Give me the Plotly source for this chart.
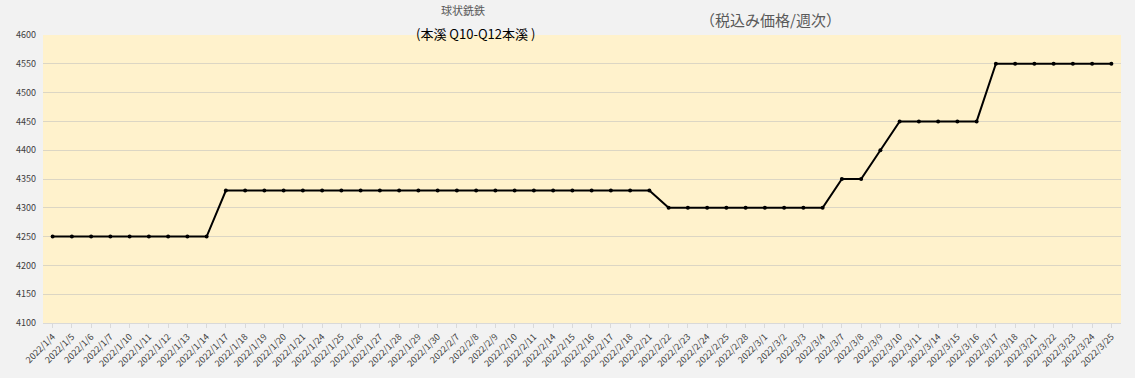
import plotly.graph_objects as go

dates = ["2022/1/4", "2022/1/5", "2022/1/6", "2022/1/7", "2022/1/10", "2022/1/11", "2022/1/12",
         "2022/1/13", "2022/1/14", "2022/1/17", "2022/1/18", "2022/1/19", "2022/1/20", "2022/1/21",
         "2022/1/24", "2022/1/25", "2022/1/26", "2022/1/27", "2022/1/28", "2022/1/29", "2022/1/30",
         "2022/2/7", "2022/2/8", "2022/2/9", "2022/2/10", "2022/2/11", "2022/2/14", "2022/2/15",
         "2022/2/16", "2022/2/17", "2022/2/18", "2022/2/21", "2022/2/22", "2022/2/23", "2022/2/24",
         "2022/2/25", "2022/2/28", "2022/3/1", "2022/3/2", "2022/3/3", "2022/3/4", "2022/3/7",
         "2022/3/8", "2022/3/9", "2022/3/10", "2022/3/11", "2022/3/14", "2022/3/15", "2022/3/16",
         "2022/3/17", "2022/3/18", "2022/3/21", "2022/3/22", "2022/3/23", "2022/3/24", "2022/3/25"]

prices = [4250, 4250, 4250, 4250, 4250, 4250, 4250, 4250, 4250,
          4330, 4330, 4330, 4330, 4330, 4330, 4330, 4330, 4330, 4330, 4330, 4330,
          4330, 4330, 4330, 4330, 4330, 4330, 4330, 4330, 4330, 4330, 4330,
          4300, 4300, 4300, 4300, 4300, 4300, 4300, 4300, 4300,
          4350, 4350, 4400,
          4450, 4450, 4450, 4450, 4450,
          4550, 4550, 4550, 4550, 4550, 4550, 4550]

y_ticks = list(range(4100, 4601, 50))

font_family = "Noto Sans CJK JP, Noto Sans, sans-serif"

fig = go.Figure()
fig.add_trace(go.Scatter(
    x=dates, y=prices, mode="lines+markers",
    line=dict(color="#000000", width=2),
    marker=dict(color="#000000", size=4),
    showlegend=False,
))

fig.update_layout(
    width=1135, height=378,
    margin=dict(l=43, r=14, t=35, b=55),
    paper_bgcolor="#f2f2f2",
    plot_bgcolor="#fff2cc",
    font=dict(family=font_family, color="#404040", size=9),
    xaxis=dict(
        type="category", categoryorder="array", categoryarray=dates,
        tickangle=-45, tickfont=dict(size=9, color="#404040"),
        showgrid=False, showline=True, linecolor="#d9d9d9", linewidth=1,
        ticks="outside", ticklen=4, tickcolor="#d9d9d9",
        range=[-0.5, len(dates) - 0.5], automargin=False,
    ),
    yaxis=dict(
        range=[4100, 4600], tickvals=y_ticks, ticktext=[str(v) for v in y_ticks],
        tickfont=dict(size=9, color="#404040"),
        showgrid=True, gridcolor="#dcd6c4", gridwidth=1,
        zeroline=False, showline=False, automargin=False,
        ticks="", ticklabelstandoff=6,
    ),
    annotations=[
        dict(text="球状銑鉄", xref="paper", yref="paper", x=(463 - 43) / (1135 - 57), y=1,
             yshift=25, showarrow=False, xanchor="center", yanchor="middle",
             font=dict(size=11, color="#595959", family=font_family)),
        dict(text="(本溪 Q10-Q12本溪 )", xref="paper", yref="paper", x=(475 - 43) / (1135 - 57), y=1,
             yshift=2, showarrow=False, xanchor="center", yanchor="middle",
             font=dict(size=13, color="#000000", family=font_family)),
        dict(text="（税込み価格/週次）", xref="paper", yref="paper", x=(770 - 43) / (1135 - 57), y=1,
             yshift=16, showarrow=False, xanchor="center", yanchor="middle",
             font=dict(size=15, color="#595959", family=font_family)),
    ],
)

fig.write_html("out.html")
